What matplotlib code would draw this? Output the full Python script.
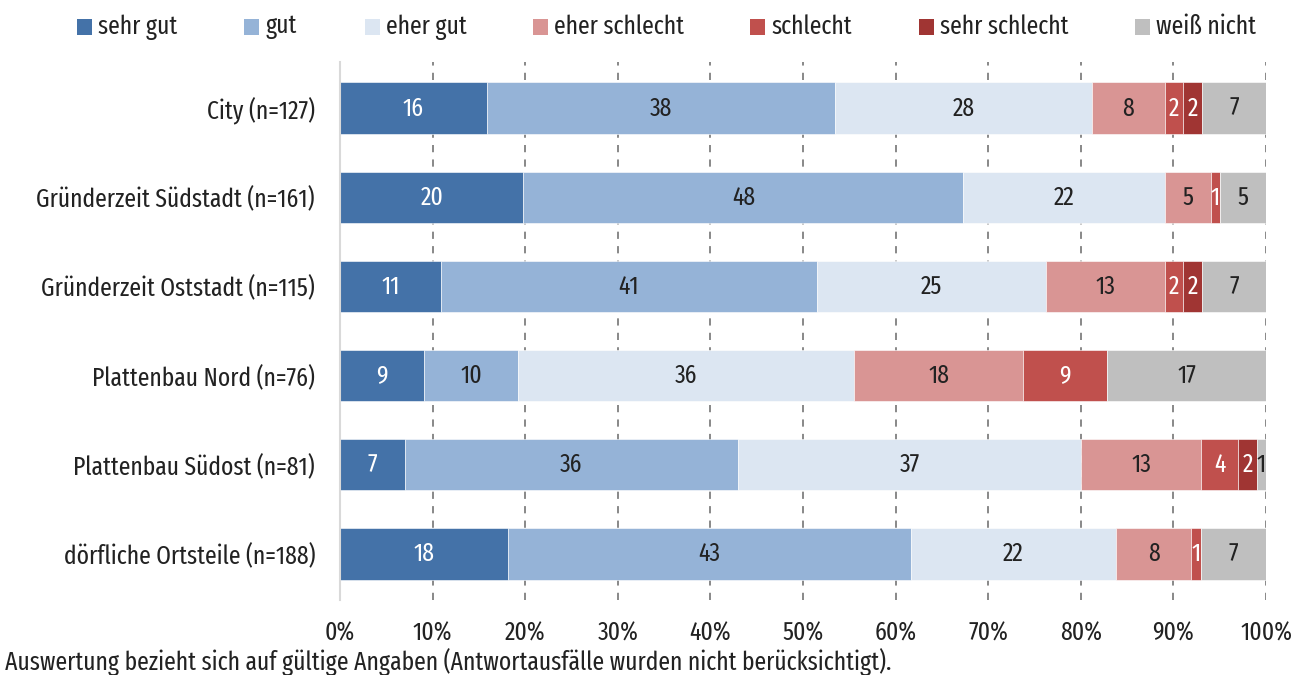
import matplotlib
matplotlib.use("Agg")
import matplotlib.pyplot as plt
from matplotlib.patches import Rectangle
import numpy as np

# Response categories and colours
categories = ["sehr gut", "gut", "eher gut", "eher schlecht", "schlecht", "sehr schlecht", "weiß nicht"]
colors = ["#4472a8", "#95b3d7", "#dce6f2", "#d99594", "#c0504d", "#a03533", "#bfbfbf"]
label_colors = ["white", "#222222", "#222222", "#222222", "white", "white", "#222222"]

# Districts (top to bottom)
districts = [
    "City (n=127)",
    "Gründerzeit Südstadt (n=161)",
    "Gründerzeit Oststadt (n=115)",
    "Plattenbau Nord (n=76)",
    "Plattenbau Südost (n=81)",
    "dörfliche Ortsteile (n=188)",
]

# Shares in percent per district, one list per response category
sehr_gut      = [16, 20, 11,  9,  7, 18]
gut           = [38, 48, 41, 10, 36, 43]
eher_gut      = [28, 22, 25, 36, 37, 22]
eher_schlecht = [ 8,  5, 13, 18, 13,  8]
schlecht      = [ 2,  1,  2,  9,  4,  1]
sehr_schlecht = [ 2,  0,  2,  0,  2,  0]
weiss_nicht   = [ 7,  5,  7, 17,  1,  7]

x_ticks = [0, 10, 20, 30, 40, 50, 60, 70, 80, 90, 100]
x_tick_labels = [f"{t}%" for t in x_ticks]
footnote = "Auswertung bezieht sich auf gültige Angaben (Antwortausfälle wurden nicht berücksichtigt)."

plt.rcParams["font.family"] = ["Fira Sans Extra Condensed", "Fira Sans Condensed", "DejaVu Sans"]
plt.rcParams["font.weight"] = "normal"
FS = 18.5
TXT = "#222222"
W, H = 1304, 675

series = np.array([sehr_gut, gut, eher_gut, eher_schlecht, schlecht, sehr_schlecht, weiss_nicht], dtype=float)
totals = series.sum(axis=0)
shares = series / totals * 100.0

fig = plt.figure(figsize=(W / 100, H / 100), dpi=100)
ax = fig.add_axes([340 / W, 1 - 600 / H, 926 / W, (600 - 62) / H])

y = np.arange(len(districts))
left = np.zeros(len(districts))
for i, cat in enumerate(categories):
    ax.barh(y, shares[i], left=left, height=0.58, color=colors[i], label=cat,
            edgecolor="white", linewidth=0.4, zorder=2)
    for j in range(len(districts)):
        v = series[i, j]
        if v > 0:
            ax.text(left[j] + shares[i, j] / 2, y[j], f"{int(v)}", ha="center", va="center",
                    color=label_colors[i], fontsize=FS, zorder=3)
    left += shares[i]

ax.set_xlim(0, 100)
ax.set_ylim(len(districts) - 0.5 + 0.02, -0.5 - 0.02)
ax.set_yticks(y)
ax.set_yticklabels(districts, fontsize=FS, color=TXT)
ax.set_xticks(x_ticks)
ax.set_xticklabels(x_tick_labels, fontsize=FS, color=TXT)
ax.tick_params(axis="x", length=0, pad=15)
ax.tick_params(axis="y", length=0, pad=18)

for t in x_ticks[1:]:
    ax.axvline(t, color="#7f7f7f", linestyle=(0, (4, 4)), linewidth=1.3, zorder=1)

for s in ["top", "right", "bottom"]:
    ax.spines[s].set_visible(False)
ax.spines["left"].set_color("#d9d9d9")
ax.spines["left"].set_linewidth(1.5)

# Legend row across the top
legend_x = [77, 244, 365, 533, 750, 919, 1135]
for cat, col, lx in zip(categories, colors, legend_x):
    fig.patches.append(Rectangle((lx / W, 1 - 35 / H), 15 / W, 16 / H, transform=fig.transFigure,
                                 facecolor=col, edgecolor="none"))
    fig.text((lx + 21) / W, 1 - 27 / H, cat, fontsize=FS, color=TXT, ha="left", va="center")

fig.text(5 / W, 1 - 670 / H, footnote, fontsize=FS, color=TXT, ha="left", va="baseline")

fig.savefig("out.png", dpi=100)
